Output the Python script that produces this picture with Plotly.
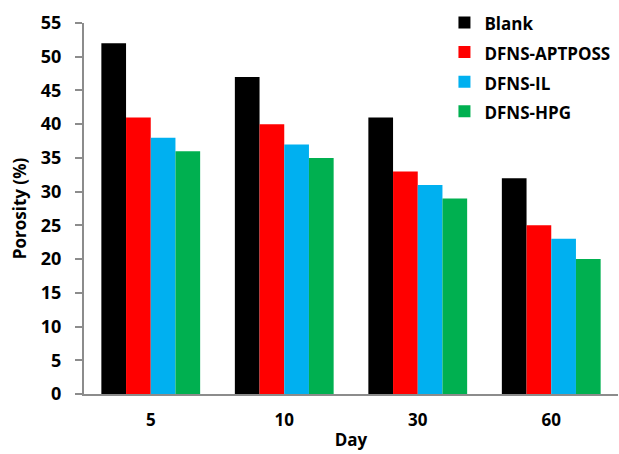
import plotly.graph_objects as go

days = ["5", "10", "30", "60"]
series_names = ["Blank", "DFNS-APTPOSS", "DFNS-IL", "DFNS-HPG"]
blank = [52, 47, 41, 32]
aptposs = [41, 40, 33, 25]
il = [38, 37, 31, 23]
hpg = [36, 35, 29, 20]
colors = ["#000000", "#ff0000", "#00b0f0", "#00b050"]

fig = go.Figure()
for name, vals, c in zip(series_names, [blank, aptposs, il, hpg], colors):
    fig.add_trace(go.Bar(x=days, y=vals,
                         name=f"<span style='font-size:17px'>{name}</span>",
                         marker=dict(color=c, line=dict(width=0))))

font = "'Open Sans', sans-serif"
fig.update_layout(
    width=619, height=454,
    margin=dict(l=84, r=1, t=23, b=60),
    plot_bgcolor="white", paper_bgcolor="white",
    barmode="group", bargap=0.26, bargroupgap=0,
    font=dict(family=font, size=17, color="black"),
    legend=dict(x=0.675, y=1.055, xanchor="left", yanchor="top", itemwidth=30,
                font=dict(family=font, size=20.5, color="black", weight="bold"),
                bgcolor="rgba(0,0,0,0)", tracegroupgap=0),
    xaxis=dict(showline=True, linecolor="#8c8c8c", linewidth=2, ticks="",
               ticklabelstandoff=10,
               tickfont=dict(family=font, size=17, weight="bold"),
               title=dict(text="<b>Day</b>", standoff=4, font=dict(size=17))),
    yaxis=dict(range=[0, 55], dtick=5, showline=True, linecolor="#8c8c8c", linewidth=2,
               ticks="outside", ticklen=7, tickcolor="#8c8c8c", tickwidth=2,
               ticklabelstandoff=10,
               showgrid=False, zeroline=False,
               tickfont=dict(family=font, size=18, weight="bold"),
               title=dict(text="<b>Porosity (%)</b>", standoff=10, font=dict(size=17))),
)
fig.write_html("out.html")
